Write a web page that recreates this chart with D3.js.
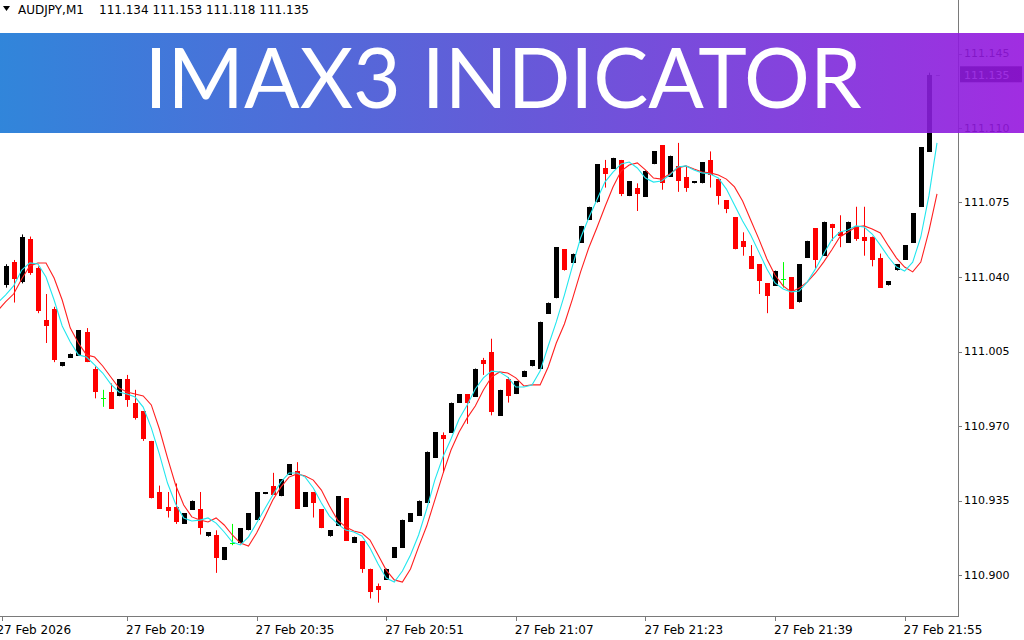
<!DOCTYPE html>
<html>
<head>
<meta charset="utf-8">
<script src="https://cdn.jsdelivr.net/npm/d3@7"></script>
<style>
  body { margin: 0; background: #ffffff; }
  svg { display: block; }
</style>
</head>
<body>
<div id="zone_graphique"></div>
<script>
var largeur = 1024;
var hauteur = 640;

// bougies AUDJPY M1, une par minute (indice 0 = 20:04)
var prixOuv = [111.036,111.047,111.038,111.058,111.044,111.020,111.025,110.998,111.002,111.003,
  111.014,110.997,110.983,110.986,110.984,110.992,110.981,110.977,110.963,110.939,
  110.932,110.932,110.924,110.931,110.931,110.918,110.919,110.907,110.915,110.915,
  110.921,110.926,110.938,110.942,110.937,110.947,110.949,110.932,110.939,110.931,
  110.918,110.923,110.936,110.915,110.916,110.903,110.895,110.898,110.908,110.913,
  110.925,110.928,110.934,110.955,110.966,110.967,110.981,110.985,110.984,111.001,
  111.005,110.975,110.992,110.985,110.993,110.998,110.997,111.023,111.030,111.053,
  111.047,111.056,111.067,111.075,111.091,111.091,111.095,111.078,111.082,111.078,
  111.093,111.102,111.087,111.092,111.087,111.084,111.084,111.095,111.086,111.076,
  111.068,111.057,111.050,111.046,111.037,111.036,111.039,111.040,111.028,111.049,
  111.063,111.050,111.065,111.061,111.056,111.064,111.059,111.059,111.049,111.036,
  111.043,111.048,111.056,111.073,111.099];
var prixHaut = [111.046,111.048,111.060,111.059,111.045,111.032,111.026,111.000,111.004,111.015,
  111.016,110.998,110.987,110.990,110.992,110.994,110.987,110.977,110.963,110.942,
  110.939,110.943,110.929,110.935,110.939,110.920,110.921,110.913,110.924,110.922,
  110.929,110.939,110.939,110.948,110.945,110.952,110.953,110.939,110.939,110.931,
  110.921,110.937,110.936,110.918,110.916,110.903,110.896,110.903,110.913,110.926,
  110.929,110.935,110.958,110.967,110.967,110.981,110.985,110.985,110.997,111.002,
  111.011,110.987,110.993,110.991,110.996,111.001,111.019,111.028,111.054,111.053,
  111.051,111.064,111.073,111.093,111.095,111.096,111.095,111.085,111.084,111.090,
  111.099,111.102,111.097,111.103,111.092,111.085,111.094,111.099,111.086,111.076,
  111.068,111.061,111.055,111.046,111.037,111.043,111.047,111.040,111.046,111.057,
  111.063,111.066,111.065,111.069,111.066,111.073,111.073,111.059,111.051,111.038,
  111.046,111.055,111.070,111.101,111.136];
var prixBas = [111.035,111.028,111.037,111.041,111.023,111.009,111.000,110.998,111.002,111.003,
  111.000,110.983,110.979,110.978,110.984,110.979,110.973,110.963,110.936,110.931,
  110.927,110.924,110.924,110.931,110.919,110.918,110.901,110.907,110.914,110.915,
  110.921,110.926,110.938,110.938,110.937,110.947,110.931,110.932,110.927,110.922,
  110.918,110.923,110.916,110.915,110.901,110.889,110.887,110.898,110.908,110.913,
  110.925,110.928,110.934,110.955,110.948,110.967,110.981,110.971,110.984,110.994,
  110.975,110.975,110.981,110.985,110.993,110.998,110.997,111.023,111.030,111.043,
  111.047,111.056,111.067,111.075,111.082,111.091,111.078,111.078,111.071,111.078,
  111.093,111.081,111.087,111.080,111.080,111.084,111.084,111.082,111.074,111.070,
  111.053,111.050,111.044,111.032,111.023,111.036,111.035,111.025,111.028,111.049,
  111.044,111.050,111.057,111.054,111.056,111.057,111.050,111.045,111.035,111.036,
  111.043,111.048,111.056,111.073,111.099];
var prixClot = [111.045,111.039,111.059,111.042,111.024,111.017,111.001,111.000,111.004,111.015,
  111.000,110.986,110.983,110.978,110.992,110.982,110.974,110.964,110.936,110.931,
  110.930,110.925,110.929,110.935,110.922,110.920,110.908,110.913,110.915,110.922,
  110.929,110.939,110.939,110.938,110.945,110.952,110.931,110.939,110.934,110.922,
  110.921,110.937,110.916,110.918,110.903,110.892,110.893,110.903,110.913,110.926,
  110.929,110.935,110.958,110.967,110.964,110.981,110.985,110.981,110.997,110.999,
  110.977,110.987,110.984,110.991,110.996,111.001,111.019,111.028,111.054,111.043,
  111.051,111.064,111.073,111.093,111.088,111.096,111.079,111.085,111.079,111.090,
  111.099,111.084,111.097,111.085,111.082,111.085,111.094,111.088,111.078,111.072,
  111.053,111.054,111.044,111.038,111.031,111.043,111.039,111.025,111.046,111.057,
  111.048,111.066,111.063,111.059,111.066,111.058,111.057,111.048,111.035,111.038,
  111.046,111.055,111.070,111.101,111.135];

// lignes IMAX3, décalées d'une bougie (indices -1 à 115)
var imaRapide = [111.0278,111.0315,111.0358,111.0433,111.0466,111.0461,111.0400,111.0292,111.0170,111.0095,
  111.0034,111.0024,110.9987,110.9949,110.9897,110.9860,110.9850,110.9836,110.9789,110.9691,
  110.9568,110.9432,110.9334,110.9268,110.9254,110.9258,110.9268,110.9244,110.9202,110.9155,
  110.9141,110.9179,110.9244,110.9310,110.9376,110.9437,110.9479,110.9479,110.9460,110.9409,
  110.9338,110.9277,110.9240,110.9211,110.9202,110.9183,110.9127,110.9052,110.8986,110.8967,
  110.9019,110.9094,110.9188,110.9310,110.9446,110.9554,110.9639,110.9733,110.9799,110.9874,
  110.9926,110.9958,110.9954,110.9930,110.9883,110.9883,110.9893,110.9958,111.0076,111.0189,
  111.0315,111.0452,111.0583,111.0677,111.0762,111.0846,111.0893,111.0931,111.0940,111.0912,
  111.0865,111.0846,111.0851,111.0879,111.0917,111.0922,111.0903,111.0889,111.0884,111.0865,
  111.0813,111.0738,111.0663,111.0597,111.0518,111.0438,111.0372,111.0344,111.0330,111.0334,
  111.0377,111.0438,111.0508,111.0574,111.0611,111.0621,111.0640,111.0635,111.0602,111.0550,
  111.0494,111.0447,111.0428,111.0470,111.0588,111.0781,111.1030];
var imaLente = [111.0240,111.0283,111.0320,111.0391,111.0452,111.0466,111.0466,111.0395,111.0292,111.0160,
  111.0090,111.0034,111.0024,110.9982,110.9930,110.9879,110.9860,110.9850,110.9841,110.9799,
  110.9686,110.9550,110.9423,110.9329,110.9273,110.9258,110.9249,110.9268,110.9235,110.9188,
  110.9150,110.9136,110.9197,110.9273,110.9352,110.9413,110.9460,110.9475,110.9465,110.9446,
  110.9399,110.9324,110.9258,110.9226,110.9207,110.9197,110.9164,110.9094,110.9023,110.8977,
  110.8967,110.9028,110.9132,110.9230,110.9352,110.9475,110.9587,110.9672,110.9738,110.9794,
  110.9869,110.9930,110.9954,110.9949,110.9926,110.9888,110.9893,110.9893,110.9977,111.0090,
  111.0179,111.0297,111.0424,111.0536,111.0630,111.0729,111.0823,111.0898,111.0926,111.0936,
  111.0903,111.0865,111.0860,111.0884,111.0912,111.0922,111.0907,111.0893,111.0889,111.0879,
  111.0860,111.0823,111.0757,111.0668,111.0579,111.0485,111.0409,111.0358,111.0330,111.0348,
  111.0377,111.0419,111.0470,111.0527,111.0588,111.0611,111.0635,111.0640,111.0626,111.0607,
  111.0546,111.0489,111.0447,111.0424,111.0470,111.0616,111.0790];

var prixTicks = [110.900, 110.935, 110.970, 111.005, 111.040, 111.075, 111.110, 111.145];
var tempsIndex = [-1, 15, 31, 47, 63, 79, 95, 111];
var tempsLabels = ["27 Feb 2026", "27 Feb 20:19", "27 Feb 20:35", "27 Feb 20:51",
  "27 Feb 21:07", "27 Feb 21:23", "27 Feb 21:39", "27 Feb 21:55"];
var entete = ["AUDJPY,M1", "111.134 111.153 111.118 111.135"];
var prixActuel = 111.135;
var titre = "IMAX3 INDICATOR";

// bords de la zone de tracé
var bordDroit = 958, bordBas = 616;

var svg = d3.select("#zone_graphique")
  .append("svg")
    .attr("width", largeur)
    .attr("height", hauteur)
    .style("font-family", "'DejaVu Sans', Verdana, sans-serif");

var x = d3.scaleLinear().domain([0, 114]).range([5.5, 928.9]);
var y = d3.scaleLinear().domain([110.900, 111.145]).range([575, 53.5]);

var defs = svg.append("defs");
defs.append("clipPath").attr("id", "clip")
  .append("rect").attr("x", 0).attr("y", 0).attr("width", bordDroit).attr("height", bordBas);

var grad = defs.append("linearGradient").attr("id", "degrade")
  .attr("x1", "0%").attr("x2", "100%").attr("y1", "0%").attr("y2", "0%");
grad.append("stop").attr("offset", "0%").attr("stop-color", "#1a78d6");
grad.append("stop").attr("offset", "50%").attr("stop-color", "#5448d4");
grad.append("stop").attr("offset", "100%").attr("stop-color", "#9616de");

var bougies = d3.range(prixOuv.length).map(function(i) {
  return {i: i, o: prixOuv[i], h: prixHaut[i], l: prixBas[i], c: prixClot[i]};
});

function couleur(d) {
  if (d.c > d.o) return "#000000";
  if (d.c < d.o) return "#ff0000";
  return "#00ff00";
}

var graph = svg.append("g").attr("clip-path", "url(#clip)");

// mèches
graph.selectAll("line.meche")
  .data(bougies)
  .enter()
  .append("line")
    .attr("class", "meche")
    .attr("x1", function(d) { return Math.round(x(d.i)) + 0.5; })
    .attr("x2", function(d) { return Math.round(x(d.i)) + 0.5; })
    .attr("y1", function(d) { return y(d.h); })
    .attr("y2", function(d) { return y(d.l); })
    .attr("stroke", couleur)
    .attr("stroke-width", 1);

// corps
graph.selectAll("rect.corps")
  .data(bougies.filter(function(d) { return d.o != d.c; }))
  .enter()
  .append("rect")
    .attr("class", "corps")
    .attr("x", function(d) { return Math.round(x(d.i)) - 2; })
    .attr("width", 5)
    .attr("y", function(d) { return Math.round(Math.min(y(d.o), y(d.c))); })
    .attr("height", function(d) { return Math.max(1, Math.round(Math.abs(y(d.o) - y(d.c)))); })
    .attr("fill", couleur)
    .attr("shape-rendering", "crispEdges");

// doji
graph.selectAll("line.doji")
  .data(bougies.filter(function(d) { return d.o == d.c; }))
  .enter()
  .append("line")
    .attr("x1", function(d) { return Math.round(x(d.i)) - 2; })
    .attr("x2", function(d) { return Math.round(x(d.i)) + 3; })
    .attr("y1", function(d) { return Math.round(y(d.o)) + 0.5; })
    .attr("y2", function(d) { return Math.round(y(d.o)) + 0.5; })
    .attr("stroke", "#00ff00");

// lignes de l'indicateur
var ligne = d3.line()
  .x(function(d, k) { return x(k - 1); })
  .y(function(d) { return y(d); });

graph.append("path").datum(imaLente)
  .attr("d", ligne).attr("fill", "none")
  .attr("stroke", "#ff2020").attr("stroke-width", 1.1);
graph.append("path").datum(imaRapide)
  .attr("d", ligne).attr("fill", "none")
  .attr("stroke", "#22e6ee").attr("stroke-width", 1.1);

// axe des prix
svg.append("line")
  .attr("x1", bordDroit + 0.5).attr("x2", bordDroit + 0.5)
  .attr("y1", 0).attr("y2", bordBas + 1)
  .attr("stroke", "#7a7a7a");
var axeY = svg.append("g");
axeY.selectAll("line")
  .data(prixTicks).enter().append("line")
    .attr("x1", bordDroit).attr("x2", bordDroit + 4)
    .attr("y1", function(d) { return Math.round(y(d)) + 0.5; })
    .attr("y2", function(d) { return Math.round(y(d)) + 0.5; })
    .attr("stroke", "#7a7a7a");
axeY.selectAll("text")
  .data(prixTicks).enter().append("text")
    .attr("x", 964)
    .attr("y", function(d) { return y(d); })
    .attr("dy", "0.36em")
    .attr("font-size", "11px")
    .attr("fill", "#000")
    .text(function(d) { return d.toFixed(3); });

// étiquette du prix actuel
svg.append("line")
  .attr("x1", x(114) + 7).attr("x2", x(114) + 11)
  .attr("y1", Math.round(y(prixActuel)) + 0.5).attr("y2", Math.round(y(prixActuel)) + 0.5)
  .attr("stroke", "#888");
svg.append("rect")
  .attr("x", 960).attr("y", y(prixActuel) - 8.5)
  .attr("width", 62).attr("height", 16)
  .attr("fill", "#000");
svg.append("text")
  .attr("x", 964).attr("y", y(prixActuel))
  .attr("dy", "0.36em")
  .attr("font-size", "11px")
  .attr("fill", "#fff")
  .text(prixActuel.toFixed(3));

// axe du temps
svg.append("line")
  .attr("x1", 0).attr("x2", bordDroit + 1)
  .attr("y1", bordBas + 0.5).attr("y2", bordBas + 0.5)
  .attr("stroke", "#7a7a7a");
var axeX = svg.append("g");
axeX.selectAll("line")
  .data(tempsIndex).enter().append("line")
    .attr("x1", function(d) { return Math.max(2, Math.round(x(d))) + 0.5; })
    .attr("x2", function(d) { return Math.max(2, Math.round(x(d))) + 0.5; })
    .attr("y1", bordBas).attr("y2", bordBas + 5)
    .attr("stroke", "#7a7a7a");
axeX.selectAll("text")
  .data(tempsIndex).enter().append("text")
    .attr("x", function(d) { return x(d) - 1; })
    .attr("y", 634)
    .attr("font-size", "12px")
    .attr("fill", "#000")
    .text(function(d, k) { return tempsLabels[k]; });

// en-tête
svg.append("path")
  .attr("d", "M3,6 L10,6 L6.5,11 Z")
  .attr("fill", "#000");
svg.append("text")
  .attr("x", 18).attr("y", 14)
  .attr("font-size", "12px")
  .text(entete[0]);
svg.append("text")
  .attr("x", 99).attr("y", 14)
  .attr("font-size", "12px")
  .text(entete[1]);

// bandeau titre
svg.append("rect")
  .attr("x", 0).attr("y", 33)
  .attr("width", largeur).attr("height", 100)
  .attr("fill", "url(#degrade)")
  .attr("opacity", 0.9);
svg.append("text")
  .attr("x", 503).attr("y", 108)
  .attr("text-anchor", "middle")
  .attr("font-family", "Lato, 'Open Sans', sans-serif")
  .attr("font-size", "84px")
  .attr("fill", "#ffffff")
  .attr("textLength", 717)
  .attr("lengthAdjust", "spacingAndGlyphs")
  .text(titre);
</script>
</body>
</html>
